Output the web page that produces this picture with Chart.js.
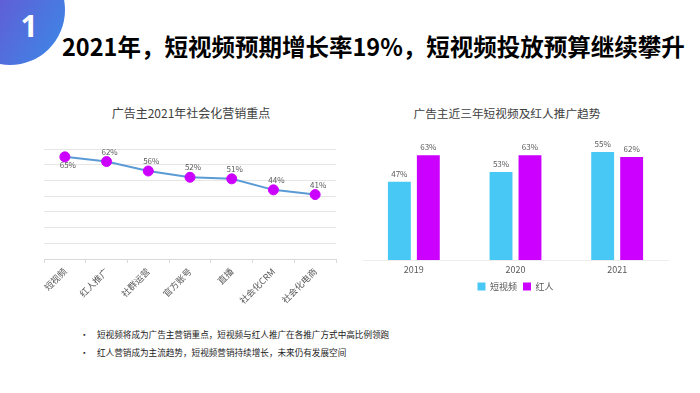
<!DOCTYPE html>
<html><head><meta charset="utf-8">
<script src="https://cdn.jsdelivr.net/npm/chart.js@4.4.1/dist/chart.umd.min.js"></script>
<style>
html,body{margin:0;padding:0;background:#fff;width:700px;height:393px;overflow:hidden;font-family:"Noto Sans CJK SC","Noto Sans",sans-serif;}
#badge{position:absolute;left:-45px;top:-45px;width:110px;height:110px;border-radius:50%;background:linear-gradient(120deg,#8a3ec6 0%,#5d62d8 45%,#3a8ae8 100%);}
#badgeNum{position:absolute;left:17px;top:7px;width:24px;text-align:center;color:#fff;font:bold 30px "Noto Sans",sans-serif;line-height:38px;}
#mainTitle{position:absolute;left:62px;top:31px;font-weight:bold;font-size:23.5px;line-height:30px;color:#000;white-space:nowrap;}
.ctitle{position:absolute;top:104px;font-size:12px;line-height:18px;color:#404040;white-space:nowrap;transform:translateX(-50%);}
.bullet{position:absolute;left:80px;font-size:8.6px;line-height:12px;color:#1a1a1a;white-space:nowrap;}
.bullet span{display:inline-block;width:17px;}
#lineBox{position:absolute;left:0;top:95px;width:350px;height:215px;}
#barBox{position:absolute;left:355px;top:95px;width:325px;height:206px;}
</style></head>
<body>
<div id="badge"></div>
<div id="badgeNum">1</div>
<div id="mainTitle">2021年，短视频预期增长率19%，短视频投放预算继续攀升</div>
<div class="ctitle" style="left:191px;">广告主2021年社会化营销重点</div>
<div class="ctitle" style="left:507px;font-size:11.7px;">广告主近三年短视频及红人推广趋势</div>
<div class="bullet" style="top:328px;"><span>•</span>短视频将成为广告主营销重点，短视频与红人推广在各推广方式中高比例领跑</div>
<div class="bullet" style="top:346px;"><span>•</span>红人营销成为主流趋势，短视频营销持续增长，未来仍有发展空间</div>
<div id="lineBox"><canvas id="lineChart" width="350" height="215"></canvas></div>
<div id="barBox"><canvas id="barChart" width="325" height="206"></canvas></div>
<script>
// ---- data ----
const marketingCategories = ['短视频','红人推广','社群运营','官方账号','直播','社会化CRM','社会化电商'];
const marketingShares = [65, 62, 56, 52, 51, 44, 41];
const years = ['2019','2020','2021'];
const shortVideoShares = [47, 53, 65];      // bar heights as drawn
const shortVideoLabels = ['47%','53%','55%']; // labels as printed
const influencerShares = [63, 63, 62];
const influencerLabels = ['63%','63%','62%'];
const seriesNames = ['短视频','红人'];

const FONT = '"Noto Sans CJK SC","Noto Sans",sans-serif';
const MAGENTA = '#cc00ff';
const CYAN = '#47c8f5';

const valueLabels = {
  id: 'valueLabels',
  afterDatasetsDraw(chart, args, opts) {
    const ctx = chart.ctx;
    chart.data.datasets.forEach((ds, di) => {
      const meta = chart.getDatasetMeta(di);
      meta.data.forEach((el, i) => {
        const txt = opts.text(di, i, ds.data[i]);
        const below = opts.below ? opts.below(di, i) : false;
        ctx.save();
        ctx.font = opts.size + 'px ' + FONT;
        ctx.fillStyle = '#595959';
        ctx.textAlign = 'center';
        ctx.textBaseline = 'middle';
        ctx.fillText(txt, el.x + (opts.dx || 0), below ? el.y + opts.offBelow : el.y - opts.offAbove);
        ctx.restore();
      });
    });
  }
};

new Chart(document.getElementById('lineChart'), {
  type: 'line',
  data: {
    labels: marketingCategories,
    datasets: [{
      data: marketingShares,
      borderColor: '#5b9bd5',
      borderWidth: 2,
      pointRadius: 5,
      pointBackgroundColor: MAGENTA,
      pointBorderColor: MAGENTA,
      pointBorderWidth: 1,
      tension: 0,
      fill: false
    }]
  },
  options: {
    responsive: false, animation: false, devicePixelRatio: 1,
    layout: { padding: { left: 44, right: 14, top: 54, bottom: 0 } },
    plugins: {
      legend: { display: false }, tooltip: { enabled: false },
      valueLabels: {
        size: 8, dx: 3, offAbove: 10, offBelow: 8,
        text: (di, i, v) => v + '%',
        below: (di, i) => i === 0
      }
    },
    scales: {
      x: {
        offset: true,
        grid: { display: true, drawOnChartArea: false, drawTicks: true, tickLength: 4, color: '#d9d9d9', offset: true },
        border: { display: true, color: '#d9d9d9' },
        ticks: { minRotation: 45, maxRotation: 45, autoSkip: false, padding: 3, color: '#595959', font: { size: 9, family: FONT } },
        afterFit(s) { s.height = 51; }
      },
      y: {
        min: 0, max: 70,
        ticks: { display: false, stepSize: 10 },
        grid: { color: '#e6e6e6', drawTicks: false },
        border: { display: false },
        afterFit(s) { s.width = 0; }
      }
    }
  },
  plugins: [valueLabels]
});

const barLabels = [shortVideoLabels, influencerLabels];
new Chart(document.getElementById('barChart'), {
  type: 'bar',
  data: {
    labels: years,
    datasets: [
      { label: seriesNames[0], data: shortVideoShares, backgroundColor: CYAN, categoryPercentage: 0.57, barPercentage: 0.79 },
      { label: seriesNames[1], data: influencerShares, backgroundColor: MAGENTA, categoryPercentage: 0.57, barPercentage: 0.79 }
    ]
  },
  options: {
    responsive: false, animation: false, devicePixelRatio: 1,
    layout: { padding: { left: 8, right: 12, top: 32, bottom: 0 } },
    plugins: {
      tooltip: { enabled: false },
      legend: {
        position: 'bottom',
        labels: { boxWidth: 8, boxHeight: 8, padding: 6, color: '#595959', font: { size: 9, family: FONT } }
      },
      valueLabels: {
        size: 8, offAbove: 8,
        text: (di, i) => barLabels[di][i]
      }
    },
    scales: {
      x: {
        grid: { display: false, drawTicks: false },
        border: { display: true, color: '#eeeeee' },
        ticks: { padding: 4, color: '#595959', font: { size: 9, family: FONT } },
        afterFit(s) { s.height = 16; }
      },
      y: {
        min: 0, max: 80,
        display: false
      }
    }
  },
  plugins: [valueLabels]
});
</script>
</body></html>
